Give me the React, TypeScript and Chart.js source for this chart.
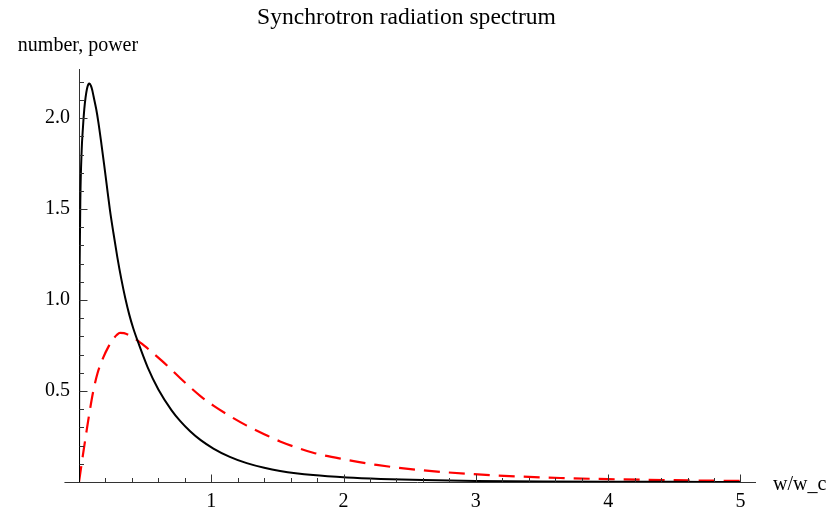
import React, { useEffect, useRef } from 'react';
import { Chart, registerables } from 'chart.js';

Chart.register(...registerables);

const TITLE = 'Synchrotron radiation spectrum';
const Y_LABEL = 'number, power';
const X_LABEL = 'w/w_c';

// black solid curve (number spectrum)
const numberX = [0, 0.002, 0.005, 0.01, 0.02, 0.03, 0.04, 0.05, 0.06, 0.07, 0.08, 0.09, 0.1, 0.11, 0.13, 0.146, 0.17, 0.19, 0.21, 0.234, 0.26, 0.29, 0.32, 0.35, 0.38, 0.41, 0.449, 0.52, 0.6, 0.7, 0.764, 0.84, 0.92, 1.016, 1.14, 1.268, 1.4, 1.52, 1.77, 2.025, 2.28, 2.6, 3.0, 3.5, 4.0, 4.5, 5.0];
const numberY = [0, 0.75, 1.2, 1.55, 1.82, 1.95, 2.05, 2.115, 2.16, 2.185, 2.19, 2.178, 2.155, 2.12, 2.05, 1.98, 1.855, 1.745, 1.63, 1.495, 1.37, 1.235, 1.115, 1.01, 0.92, 0.845, 0.764, 0.629, 0.509, 0.394, 0.336, 0.279, 0.23, 0.184, 0.138, 0.1035, 0.078, 0.061, 0.038, 0.0246, 0.0166, 0.0104, 0.0061, 0.0032, 0.0017, 0.0009, 0.0005];

// red dashed curve (power spectrum)
const powerX = [0, 0.03, 0.058, 0.08, 0.108, 0.14, 0.184, 0.22, 0.26, 0.285, 0.31, 0.34, 0.38, 0.436, 0.5, 0.562, 0.625, 0.688, 0.764, 0.84, 0.92, 1.016, 1.14, 1.268, 1.4, 1.52, 1.77, 2.025, 2.25, 2.6, 2.96, 3.3, 3.64, 4.0, 4.5, 5.0];
const powerY = [0, 0.15, 0.284, 0.385, 0.5, 0.598, 0.685, 0.74, 0.787, 0.808, 0.82, 0.818, 0.806, 0.781, 0.745, 0.707, 0.667, 0.625, 0.572, 0.521, 0.471, 0.42, 0.363, 0.31, 0.263, 0.223, 0.161, 0.122, 0.094, 0.064, 0.044, 0.031, 0.022, 0.0157, 0.0098, 0.0061];

const X_MIN = 0;
const X_MAX = 5.11;
const X_AXIS_START = -0.11;
const Y_MIN = 0;
const Y_MAX = 2.27;

const xMajorTicks = [1, 2, 3, 4, 5];
const xMinorTicks = [0.2, 0.4, 0.6, 0.8, 1.2, 1.4, 1.6, 1.8, 2.2, 2.4, 2.6, 2.8, 3.2, 3.4, 3.6, 3.8, 4.2, 4.4, 4.6, 4.8];
const yMajorTicks = [0.5, 1.0, 1.5, 2.0];
const yMinorTicks = [0.1, 0.2, 0.3, 0.4, 0.6, 0.7, 0.8, 0.9, 1.1, 1.2, 1.3, 1.4, 1.6, 1.7, 1.8, 1.9, 2.1, 2.2];

const FONT = "'Liberation Serif', 'Times New Roman', serif";
const AXIS_COLOR = '#333333';

const axisDecor = {
  id: 'axisDecor',
  afterDraw(chart: any) {
    const { ctx, chartArea, scales } = chart;
    const x = scales.x;
    const y = scales.y;
    const x0 = Math.round(x.getPixelForValue(0)) + 0.5;
    const y0 = Math.round(y.getPixelForValue(0)) + 0.5;
    ctx.save();
    ctx.strokeStyle = AXIS_COLOR;
    ctx.lineWidth = 1;
    ctx.beginPath();
    ctx.moveTo(x.getPixelForValue(X_AXIS_START), y0);
    ctx.lineTo(x0, y0);
    for (const v of yMajorTicks) {
      const p = Math.round(y.getPixelForValue(v)) + 0.5;
      ctx.moveTo(x0, p);
      ctx.lineTo(x0 + 8, p);
    }
    for (const v of yMinorTicks) {
      const p = Math.round(y.getPixelForValue(v)) + 0.5;
      ctx.moveTo(x0, p);
      ctx.lineTo(x0 + 4.5, p);
    }
    for (const v of xMajorTicks) {
      const p = Math.round(x.getPixelForValue(v)) + 0.5;
      ctx.moveTo(p, y0);
      ctx.lineTo(p, y0 - 8);
    }
    for (const v of xMinorTicks) {
      const p = Math.round(x.getPixelForValue(v)) + 0.5;
      ctx.moveTo(p, y0);
      ctx.lineTo(p, y0 - 4.5);
    }
    ctx.stroke();

    ctx.fillStyle = '#000';
    ctx.font = `20px ${FONT}`;
    ctx.textBaseline = 'alphabetic';
    ctx.textAlign = 'center';
    ctx.fillText(Y_LABEL, x0 - 1.5, chartArea.top - 18);
    ctx.textAlign = 'left';
    ctx.fillText(X_LABEL, chartArea.right + 18, y0 + 7);
    ctx.restore();
  },
};

export default function App() {
  const canvasRef = useRef<HTMLCanvasElement | null>(null);

  useEffect(() => {
    if (!canvasRef.current) return;
    const chart = new Chart(canvasRef.current, {
      type: 'line',
      data: {
        datasets: [
          {
            label: 'number',
            data: numberX.map((x, i) => ({ x, y: numberY[i] })),
            borderColor: '#000000',
            borderWidth: 2,
            pointRadius: 0,
            fill: false,
            cubicInterpolationMode: 'monotone',
          },
          {
            label: 'power',
            data: powerX.map((x, i) => ({ x, y: powerY[i] })),
            borderColor: '#ff0000',
            borderWidth: 2.2,
            borderDash: [16, 9],
            pointRadius: 0,
            fill: false,
            cubicInterpolationMode: 'monotone',
          },
        ],
      },
      options: {
        animation: false,
        responsive: false,
        maintainAspectRatio: false,
        layout: { padding: { left: 45, right: 71, top: 0, bottom: 0 } },
        plugins: {
          legend: { display: false },
          tooltip: { enabled: false },
          title: {
            display: true,
            text: TITLE,
            color: '#000',
            font: { family: FONT, size: 23.6, weight: 'normal' },
            padding: { top: 4, bottom: 36.7 },
          },
        },
        scales: {
          x: {
            type: 'linear',
            min: X_MIN,
            max: X_MAX,
            grid: { display: false, drawTicks: false },
            border: { display: true, color: AXIS_COLOR, width: 1 },
            ticks: {
              stepSize: 1,
              includeBounds: false,
              padding: 8,
              color: '#000',
              font: { family: FONT, size: 20 },
              maxRotation: 0,
              callback: (v: any) => (Number(v) === 0 ? '' : String(v)),
            },
            afterFit: (s: any) => { s.height = 28; },
          },
          y: {
            type: 'linear',
            min: Y_MIN,
            max: Y_MAX,
            grid: { display: false, drawTicks: false },
            border: { display: true, color: AXIS_COLOR, width: 1 },
            ticks: {
              stepSize: 0.5,
              includeBounds: false,
              padding: 9,
              color: '#000',
              font: { family: FONT, size: 20 },
              callback: (v: any) => (Number(v) === 0 ? '' : Number(v).toFixed(1)),
            },
            afterFit: (s: any) => { s.width = 34; },
          },
          spacer: {
            type: 'linear',
            position: 'right',
            display: true,
            grid: { display: false, drawTicks: false },
            border: { display: false },
            ticks: { display: false },
            afterFit: (s: any) => { s.width = 13; },
          },
        },
      },
      plugins: [axisDecor],
    } as any);
    return () => chart.destroy();
  }, []);

  return (
    <div style={{ position: 'absolute', left: 0, top: 0, width: 839, height: 510, background: '#fff' }}>
      <canvas ref={canvasRef} width={839} height={510} style={{ display: 'block' }} />
    </div>
  );
}
